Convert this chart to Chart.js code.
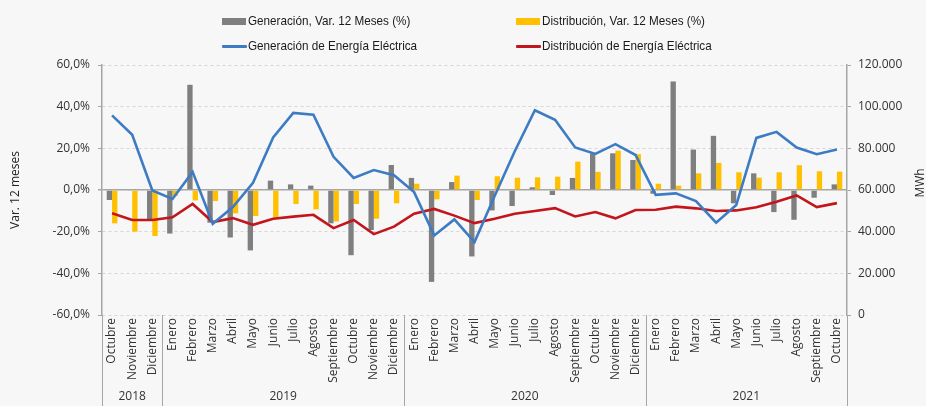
<!DOCTYPE html>
<html>
<head>
<meta charset="utf-8">
<script src="https://cdn.jsdelivr.net/npm/chart.js@4.4.0/dist/chart.umd.min.js"></script>
<style>
  html, body { margin: 0; padding: 0; background: #f7f7f7; }
  #wrap { position: relative; width: 926px; height: 406px; }
  #chart { position: absolute; left: 0; top: 0; }
  #legend {
    position: absolute; left: 222px; top: 12px;
    display: grid; grid-template-columns: 294px 294px; grid-auto-rows: 25px;
    font-family: "Liberation Sans Narrow", "Liberation Sans", sans-serif;
    font-size: 13px; color: #1a1a1a;
  }
  .item { position: relative; height: 18px; white-space: nowrap; }
  .item .mark { position: absolute; left: 0; }
  .item .txt { position: absolute; left: 26px; top: 0; line-height: 18px; transform: scaleX(0.9); transform-origin: 0 50%; }
</style>
</head>
<body>
<div id="wrap">
  <canvas id="chart" width="926" height="406"></canvas>
  <div id="legend"></div>
</div>
<script>
var months = ["Octubre", "Noviembre", "Diciembre",
  "Enero", "Febrero", "Marzo", "Abril", "Mayo", "Junio", "Julio", "Agosto", "Septiembre", "Octubre", "Noviembre", "Diciembre",
  "Enero", "Febrero", "Marzo", "Abril", "Mayo", "Junio", "Julio", "Agosto", "Septiembre", "Octubre", "Noviembre", "Diciembre",
  "Enero", "Febrero", "Marzo", "Abril", "Mayo", "Junio", "Julio", "Agosto", "Septiembre", "Octubre"];
var years = ["2018", "2019", "2020", "2021"];
var yearMonths = [3, 12, 12, 10];

// variacion 12 meses (%)
var genVar = [-4.8, -0.3, -14.1, -20.9, 50.5, -15.7, -22.8, -29.0, 4.5, 2.7, 2.1, -16.0, -31.3, -19.2, 12.0,
  5.8, -44.1, 3.8, -31.9, -9.8, -7.7, 1.3, -2.4, 5.8, 17.5, 17.6, 14.4,
  -1.8, 52.1, 19.4, 26.0, -6.4, 8.0, -10.6, -14.3, -3.7, 2.7];
var distVar = [-16.0, -20.0, -22.1, -2.9, -5.0, -5.3, -11.2, -12.5, -13.2, -6.7, -9.3, -15.1, -6.7, -13.8, -6.4,
  3.0, -4.5, 6.9, -4.8, 6.6, 5.9, 6.1, 6.4, 13.6, 8.7, 18.9, 17.2,
  3.0, 2.1, 8.0, 13.0, 8.5, 5.9, 8.5, 11.9, 9.0, 8.8];

// energia (MWh)
var genMWh = [95800, 86500, 59800, 55700, 68700, 43800, 51800, 63500, 85200, 97000, 96100, 75900, 65800, 69600, 67100,
  59000, 38200, 45900, 35000, 57100, 78600, 98300, 93700, 80400, 77300, 82000, 76800,
  57700, 58400, 54700, 44300, 52800, 85000, 87900, 80400, 77200, 79400];
var distMWh = [48800, 45600, 45600, 46900, 53300, 44600, 46500, 43300, 46200, 47200, 48100, 41700, 45600, 38800, 42400,
  48600, 50900, 47700, 44100, 46200, 48600, 49900, 51300, 47300, 49400, 46400, 50400,
  50500, 52000, 51200, 49900, 50200, 51700, 54400, 57400, 51800, 53700];

var seriesNames = ["Generación, Var. 12 Meses (%)", "Distribución, Var. 12 Meses (%)",
  "Generación de Energía Eléctrica", "Distribución de Energía Eléctrica"];
var colors = ["#7f7f7f", "#ffc000", "#3d7cc3", "#c2151c"];

var axisGray = "#a6a6a6";
var font = { family: "'Open Sans', 'Noto Sans', sans-serif", size: 12 };

// legend (2 x 2)
var legend = document.getElementById("legend");
seriesNames.forEach(function(name, i) {
  var item = document.createElement("div");
  item.className = "item";
  var mark = document.createElement("span");
  mark.className = "mark";
  if (i < 2) {
    mark.style.cssText = "top:6px;width:24px;height:7px;background:" + colors[i];
  } else {
    mark.style.cssText = "top:8px;width:25px;height:3px;border-radius:1px;background:" + colors[i];
  }
  var txt = document.createElement("span");
  txt.className = "txt";
  txt.textContent = name;
  item.appendChild(mark);
  item.appendChild(txt);
  legend.appendChild(item);
});

// year groups under the month labels + right axis title
var extras = {
  id: "extras",
  afterDraw: function(chart) {
    var ctx = chart.ctx;
    var x = chart.scales.x;
    var y1 = chart.scales.y1;
    var area = chart.chartArea;
    ctx.save();
    ctx.strokeStyle = axisGray;
    ctx.lineWidth = 1;
    ctx.font = "12px " + font.family;
    ctx.fillStyle = "#333";
    ctx.textAlign = "center";
    ctx.textBaseline = "middle";
    var start = 0;
    var edges = [x.getPixelForValue(-0.5)];
    years.forEach(function(y, i) {
      var end = start + yearMonths[i];
      var l = x.getPixelForValue(start - 0.5);
      var r = x.getPixelForValue(end - 0.5);
      edges.push(r);
      ctx.fillText(y, (l + r) / 2, chart.height - 9);
      start = end;
    });
    edges.forEach(function(e) {
      ctx.beginPath();
      ctx.moveTo(Math.round(e) + 0.5, area.bottom);
      ctx.lineTo(Math.round(e) + 0.5, chart.height);
      ctx.stroke();
    });

    ctx.fillStyle = "#222";
    ctx.translate(y1.right - 5, (area.top + area.bottom) / 2 - 7);
    ctx.rotate(-Math.PI / 2);
    ctx.fillText("MWh", 0, 0);
    ctx.restore();
  }
};

new Chart(document.getElementById("chart"), {
  data: {
    labels: months,
    datasets: [
      { type: "line", label: seriesNames[2], data: genMWh, yAxisID: "y1", borderColor: colors[2], borderWidth: 2.6, pointRadius: 0, tension: 0, order: 0 },
      { type: "line", label: seriesNames[3], data: distMWh, yAxisID: "y1", borderColor: colors[3], borderWidth: 2.6, pointRadius: 0, tension: 0, order: 0 },
      { type: "bar", label: seriesNames[0], data: genVar, yAxisID: "y", backgroundColor: colors[0], order: 1, barPercentage: 1, categoryPercentage: 0.53 },
      { type: "bar", label: seriesNames[1], data: distVar, yAxisID: "y", backgroundColor: colors[1], order: 1, barPercentage: 1, categoryPercentage: 0.53 }
    ]
  },
  options: {
    responsive: false,
    animation: false,
    layout: { padding: { top: 65, left: 0, right: 0, bottom: 0 } },
    plugins: { legend: { display: false }, tooltip: { enabled: false } },
    scales: {
      x: {
        grid: { display: false, drawTicks: false },
        border: { display: false },
        ticks: { font: font, color: "#333", minRotation: 90, maxRotation: 90, autoSkip: false, padding: 3 },
        afterFit: function(s) { s.height = 91; }
      },
      y: {
        position: "left",
        min: -60, max: 60,
        ticks: { stepSize: 20, font: font, color: "#333", padding: 8,
          callback: function(v) { return v.toFixed(1).replace(".", ",") + "%"; } },
        grid: {
          color: function(c) { return c.tick && c.tick.value === 0 ? axisGray : "#d6d6d6"; },
          lineWidth: function(c) { return c.tick && c.tick.value === 0 ? 1.5 : 1; },
          tickColor: axisGray, tickLength: 4
        },
        border: { color: axisGray, width: 1.5,
          dash: function(c) { return c.tick && c.tick.value === 0 ? [] : [3, 3]; } },
        title: { display: true, text: "Var. 12 meses", font: font, color: "#222", padding: { top: 8, bottom: 0 } },
        afterFit: function(s) { s.width = 102; }
      },
      y1: {
        position: "right",
        min: 0, max: 120000,
        ticks: { stepSize: 20000, font: font, color: "#333", padding: 7,
          callback: function(v) { return v === 0 ? "0" : String(v).replace(/\B(?=(\d{3})+(?!\d))/g, "."); } },
        grid: { drawOnChartArea: false, tickColor: axisGray, tickLength: 4 },
        border: { color: axisGray, width: 1.5 },
        afterFit: function(s) { s.width = 79; }
      }
    }
  },
  plugins: [extras]
});
</script>
</body>
</html>
